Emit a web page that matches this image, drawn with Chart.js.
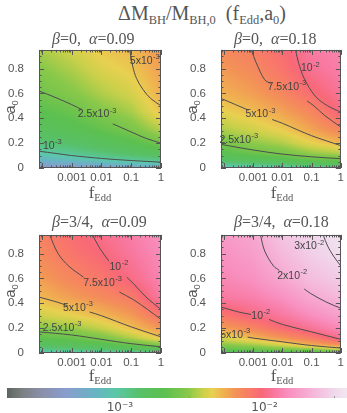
<!DOCTYPE html>
<html lang="en">
<head>
<meta charset="UTF-8">
<title>dM_BH / M_BH,0 (f_Edd, a_0)</title>
<script src="https://cdn.jsdelivr.net/npm/chart.js"></script>
<style>
  body { margin:0; background:#fff; width:347px; height:413px; overflow:hidden; position:relative; }
  canvas { position:absolute; }
  .txt { position:absolute; white-space:nowrap; font-family:'Liberation Serif', serif; color:#555; }
  .txt sub { font-size:0.62em; vertical-align:-0.3em; line-height:0; }
  .ylab { font-family:'Liberation Sans', sans-serif; font-size:15px; width:40px; height:20px; line-height:20px; text-align:center; transform:rotate(-90deg); }
  .xlab { font-size:17px; width:60px; height:20px; line-height:20px; text-align:center; }
  .ptitle { font-size:16px; line-height:16px; }
</style>
</head>
<body>
  <!-- figure title -->
  <div class="txt" style="left:2px;width:400px;top:2px;text-align:center;font-size:20px;">&Delta;M<sub>BH</sub>/M<sub>BH,0</sub>&nbsp;&nbsp;(f<sub>Edd</sub>,a<sub>0</sub>)</div>

  <!-- panels -->
  <canvas id="p1" width="175" height="184" style="left:0;top:28px"></canvas>
  <canvas id="p2" width="165" height="184" style="left:182px;top:28px"></canvas>
  <canvas id="p3" width="175" height="184" style="left:0;top:213px"></canvas>
  <canvas id="p4" width="165" height="184" style="left:182px;top:213px"></canvas>
  <canvas id="cbar" width="347" height="33" style="left:0;top:380px"></canvas>

  <div class="txt ptitle" style="left:52px;top:31px"><i>&beta;</i>=0,&nbsp; <i>&alpha;</i>=0.09</div>
  <div class="txt ptitle" style="left:234px;top:31px"><i>&beta;</i>=0,&nbsp; <i>&alpha;</i>=0.18</div>
  <div class="txt ptitle" style="left:52px;top:214px"><i>&beta;</i>=3/4,&nbsp; <i>&alpha;</i>=0.09</div>
  <div class="txt ptitle" style="left:234px;top:214px"><i>&beta;</i>=3/4,&nbsp; <i>&alpha;</i>=0.18</div>

  <div class="txt ylab" style="left:-10px;top:97px">a<sub>0</sub></div>
  <div class="txt ylab" style="left:172px;top:97px">a<sub>0</sub></div>
  <div class="txt ylab" style="left:-10px;top:281px">a<sub>0</sub></div>
  <div class="txt ylab" style="left:172px;top:281px">a<sub>0</sub></div>

  <div class="txt xlab" style="left:70px;top:183px">f<sub>Edd</sub></div>
  <div class="txt xlab" style="left:252px;top:183px">f<sub>Edd</sub></div>
  <div class="txt xlab" style="left:70px;top:366px">f<sub>Edd</sub></div>
  <div class="txt xlab" style="left:252px;top:366px">f<sub>Edd</sub></div>

  <script>
    const fEdd = [8e-5, 1e-3, 1e-2, 1e-1, 1];
    const a0 = [0, 0.03, 0.07, 0.12, 0.2, 0.3, 0.45, 0.6, 0.8, 0.95];

    // dM_BH/M_BH,0 in units of 1e-3 ; rows follow a0, columns follow fEdd
    const dmB0A09 = [
      [0.35, 0.38, 0.42, 0.45, 0.48],
      [0.50, 0.55, 0.65, 0.75, 0.82],
      [0.70, 0.80, 0.95, 1.08, 1.20],
      [0.93, 1.08, 1.25, 1.45, 1.70],
      [1.25, 1.40, 1.65, 1.95, 2.50],
      [1.60, 1.80, 2.15, 2.60, 3.40],
      [2.00, 2.30, 2.80, 3.30, 4.70],
      [2.45, 2.85, 3.40, 3.95, 5.30],
      [2.90, 3.40, 4.10, 4.60, 5.80],
      [3.30, 3.90, 4.60, 5.00, 6.20]
    ];
    const dmB0A18 = [
      [0.75, 0.80, 0.85, 0.90, 0.95],
      [1.10, 1.20, 1.35, 1.55, 1.70],
      [1.50, 1.75, 1.95, 2.30, 2.40],
      [1.95, 2.35, 2.60, 3.10, 3.50],
      [2.60, 3.00, 3.40, 4.30, 5.10],
      [3.30, 3.80, 4.40, 5.60, 7.00],
      [4.30, 4.90, 5.70, 7.00, 10.0],
      [5.20, 5.90, 7.00, 9.00, 11.3],
      [6.10, 6.90, 8.40, 11.0, 12.5],
      [6.80, 7.60, 9.10, 12.0, 13.2]
    ];
    const dmB34A09 = [
      [0.80, 0.85, 0.90, 0.95, 1.00],
      [1.15, 1.25, 1.35, 1.55, 1.80],
      [1.60, 1.75, 1.95, 2.40, 2.90],
      [2.10, 2.30, 2.65, 3.40, 4.60],
      [2.90, 3.10, 3.70, 4.80, 6.20],
      [3.80, 4.30, 5.00, 6.00, 8.40],
      [5.00, 5.90, 6.80, 7.90, 12.0],
      [5.90, 7.10, 8.20, 10.2, 13.2],
      [6.80, 8.30, 9.60, 11.6, 14.2],
      [7.40, 9.00, 10.5, 12.4, 14.8]
    ];
    const dmB34A18 = [
      [1.50, 1.55, 1.60, 1.70, 1.80],
      [2.20, 2.40, 2.70, 3.00, 3.80],
      [3.00, 3.40, 4.20, 5.50, 6.80],
      [4.00, 5.00, 6.20, 7.80, 10.8],
      [5.80, 7.20, 9.20, 11.3, 14.0],
      [8.20, 10.0, 11.7, 14.5, 17.5],
      [11.8, 12.8, 15.0, 19.3, 22.5],
      [13.5, 15.0, 19.0, 23.5, 27.0],
      [15.0, 17.2, 22.5, 27.5, 32.0],
      [16.0, 18.8, 25.0, 29.5, 35.0]
    ];

    // contour lines [fEdd, a0]; a null a0 is the break left for the label
    const p1c10 = [[8e-5,0.135],[3e-4,0.117],[1e-3,0.10],[1e-2,0.077],[0.1,0.06],[1,0.047]];
    const p1c25 = [[8e-5,0.62],[3e-4,0.565],[1e-3,0.51],[2.2e-3,0.47],[7e-3,null],[2.4e-2,0.355],[0.1,0.29],[0.3,0.24],[1,0.2]];
    const p1c50 = [[0.089,0.95],[0.112,0.82],[0.151,0.72],[0.251,0.63],[0.447,0.56],[1,0.5]];

    const p2c25 = [[8e-5,0.19],[1e-3,0.145],[1e-2,0.112],[0.1,0.09],[1,0.075]];
    const p2c50 = [[8e-5,0.56],[2.5e-4,0.51],[7e-4,0.465],[1.8e-3,null],[4.5e-3,0.39],[1e-2,0.36],[0.1,0.26],[1,0.18]];
    const p2c75 = [[8.7e-4,0.95],[1.26e-3,0.85],[2.5e-3,0.71],[4e-3,0.68],[0.014,null],[0.07,0.54],[0.12,0.5],[0.29,0.42],[1,0.33]];
    const p2c100 = [[0.0282,0.95],[0.0355,0.85],[0.0562,0.72],[0.132,0.58],[0.355,0.5],[1,0.45]];

    const p3c25 = [[8e-5,0.17],[1e-3,0.145],[1e-2,0.11],[0.1,0.075],[1,0.05]];
    const p3c50 = [[8e-5,0.45],[3.2e-4,0.41],[7.4e-4,0.38],[1.6e-3,null],[4e-3,0.33],[1e-2,0.3],[0.1,0.21],[1,0.13]];
    const p3c75 = [[1.82e-4,0.95],[3.5e-4,0.8],[7.9e-4,0.7],[2.5e-3,0.61],[0.0107,null],[0.04,0.49],[0.117,0.43],[0.355,0.35],[1,0.27]];
    const p3c100 = [[5e-3,0.95],[8.9e-3,0.84],[0.0178,0.74],[0.038,null],[0.0708,0.61],[0.117,0.56],[0.316,0.45],[1,0.35]];

    const p4c50 = [[6.5e-4,0.128],[1e-3,0.12],[1e-2,0.09],[0.1,0.06],[1,0.04]];
    const p4c100 = [[8e-5,0.37],[3.2e-4,0.33],[8.5e-4,0.31],[1.8e-3,null],[3.5e-3,0.27],[1e-2,0.23],[0.1,0.17],[1,0.11]];
    const p4c200 = [[1.78e-3,0.95],[2.5e-3,0.82],[5e-3,0.7],[7.9e-3,0.665],[0.0214,null],[0.056,0.515],[0.091,0.48],[0.316,0.41],[1,0.36]];
    const p4c300 = [[0.251,0.95],[0.355,0.86],[0.562,0.78],[1,0.7]];

    // contour labels: mantissa text, exponent, fEdd, a0
    const p1Labels = [['10','-3',2.2e-4,0.175],['2.5x10','-3',7e-3,0.43],['5x10','-3',0.28,0.86]];
    const p2Labels = [['2.5x10','-3',3.2e-4,0.225],['5x10','-3',1.74e-3,0.43],['7.5x10','-3',0.0141,0.65],['10','-2',0.089,0.8]];
    const p3Labels = [['2.5x10','-3',4.7e-4,0.2],['5x10','-3',1.6e-3,0.36],['7.5x10','-3',0.0107,0.565],['10','-2',0.038,0.69]];
    const p4Labels = [['5x10','-3',2.4e-4,0.147],['10','-2',1.8e-3,0.3],['2x10','-2',0.0214,0.62],['3x10','-2',0.081,0.857]];

    const xTicks = [1e-3, 1e-2, 1e-1, 1];
    const yTicks = [0, 0.2, 0.4, 0.6, 0.8];
    const cbarTicks = [1e-3, 1e-2];
    const cbarTickText = ['10\u207B\u00B3', '10\u207B\u00B2'];

    // colour table: log10(dM/M) -> colour
    const cbarLog = [-3.78, -3.68, -3.55, -3.38, -3.17, -3.03, -2.86, -2.69, -2.53, -2.43, -2.36, -2.28, -2.19, -2.10, -2.02, -1.93, -1.83, -1.72, -1.62, -1.52, -1.43];
    const cbarHex = ['#5d6560','#7b807f','#8a8fa8','#8a9ccc','#68b4c4','#5ac8a8','#58c068','#5cc050','#88c84a','#c8d04a','#e8d050','#f0b050','#f39058','#f87a68','#f86878','#f878a0','#f890c0','#f6a8d0','#f4c0e0','#f0d8ec','#f0e8f0'];

    const xMin = 8e-5, xMax = 1, yMax = 0.95;
    const textColor = '#555';

    const cbarRgb = cbarHex.map(h => [parseInt(h.slice(1,3),16), parseInt(h.slice(3,5),16), parseInt(h.slice(5,7),16)]);
    function cmap(lv) {
      const n = cbarLog.length;
      if (lv <= cbarLog[0]) return cbarRgb[0];
      if (lv >= cbarLog[n-1]) return cbarRgb[n-1];
      let i = 0;
      while (lv > cbarLog[i+1]) i++;
      const t = (lv - cbarLog[i]) / (cbarLog[i+1] - cbarLog[i]);
      return cbarRgb[i].map((c, k) => c + t * (cbarRgb[i+1][k] - c));
    }
    function seg(arr, v) {
      const n = arr.length;
      if (v <= arr[0]) return [0, 0];
      if (v >= arr[n-1]) return [n-2, 1];
      let i = 0;
      while (v > arr[i+1]) i++;
      return [i, (v - arr[i]) / (arr[i+1] - arr[i])];
    }

    const panels = {
      p1: { grid: dmB0A09, lines: [p1c10, p1c25, p1c50], labels: p1Labels, padR: 14 },
      p2: { grid: dmB0A18, lines: [p2c25, p2c50, p2c75, p2c100], labels: p2Labels, padR: 4 },
      p3: { grid: dmB34A09, lines: [p3c25, p3c50, p3c75, p3c100], labels: p3Labels, padR: 14 },
      p4: { grid: dmB34A18, lines: [p4c50, p4c100, p4c200, p4c300], labels: p4Labels, padR: 4 }
    };

    // colour map of each panel, drawn behind the contours
    const heatmap = {
      id: 'heatmap',
      beforeDatasetsDraw(chart) {
        const { ctx, chartArea: ca, scales } = chart;
        const lg = panels[chart.canvas.id].grid.map(r => r.map(v => Math.log10(v * 1e-3)));
        const lx = fEdd.map(Math.log10);
        const x0 = Math.round(ca.left), y0 = Math.round(ca.top);
        const w = Math.round(ca.right) - x0, h = Math.round(ca.bottom) - y0;
        const img = ctx.createImageData(w, h);
        for (let j = 0; j < h; j++) {
          const [r, u] = seg(a0, scales.y.getValueForPixel(y0 + j + 0.5));
          for (let i = 0; i < w; i++) {
            const [c, t] = seg(lx, Math.log10(scales.x.getValueForPixel(x0 + i + 0.5)));
            const v = (1-u) * ((1-t) * lg[r][c] + t * lg[r][c+1]) + u * ((1-t) * lg[r+1][c] + t * lg[r+1][c+1]);
            const rgb = cmap(v);
            const k = (j * w + i) * 4;
            img.data[k] = rgb[0]; img.data[k+1] = rgb[1]; img.data[k+2] = rgb[2]; img.data[k+3] = 255;
          }
        }
        ctx.putImageData(img, x0, y0);
      }
    };

    function supText(ctx, base, sup, x, y) {
      ctx.font = '10.5px "Liberation Sans"';
      const wb = ctx.measureText(base).width;
      ctx.font = '7.5px "Liberation Sans"';
      const ws = ctx.measureText(sup).width;
      const left = x - (wb + ws) / 2;
      ctx.textAlign = 'left';
      ctx.textBaseline = 'middle';
      ctx.font = '10.5px "Liberation Sans"';
      ctx.fillText(base, left, y);
      ctx.font = '7.5px "Liberation Sans"';
      ctx.fillText(sup, left + wb + 0.5, y - 4);
    }

    // box, inward ticks on all four sides and contour labels
    const frame = {
      id: 'frame',
      afterDatasetsDraw(chart) {
        const { ctx, chartArea: ca, scales: { x, y } } = chart;
        ctx.save();
        ctx.strokeStyle = '#555';
        ctx.lineWidth = 1;
        ctx.strokeRect(Math.round(ca.left) + 0.5, Math.round(ca.top) + 0.5, Math.round(ca.right - ca.left) - 1, Math.round(ca.bottom - ca.top) - 1);
        ctx.beginPath();
        for (let d = -5; d <= 0; d++) {
          for (let m = 1; m <= 9; m++) {
            const v = m * Math.pow(10, d);
            if (v < xMin || v > xMax) continue;
            const px = Math.round(x.getPixelForValue(v)) + 0.5;
            const len = m === 1 ? 5 : 2.5;
            ctx.moveTo(px, ca.bottom); ctx.lineTo(px, ca.bottom - len);
            ctx.moveTo(px, ca.top); ctx.lineTo(px, ca.top + len);
          }
        }
        for (let k = 0; k * 0.05 <= yMax + 1e-9; k++) {
          const py = Math.round(y.getPixelForValue(k * 0.05)) + 0.5;
          const len = k % 4 === 0 ? 5 : 2.5;
          ctx.moveTo(ca.left, py); ctx.lineTo(ca.left + len, py);
          ctx.moveTo(ca.right, py); ctx.lineTo(ca.right - len, py);
        }
        ctx.stroke();
        ctx.fillStyle = '#444';
        panels[chart.canvas.id].labels.forEach(l => {
          supText(ctx, l[0], l[1], x.getPixelForValue(l[2]), y.getPixelForValue(l[3]));
        });
        ctx.restore();
      }
    };

    const tickFont = { family: 'Liberation Sans', size: 11.5 };

    Object.keys(panels).forEach(id => {
      const p = panels[id];
      new Chart(document.getElementById(id), {
        type: 'line',
        data: {
          datasets: p.lines.map(c => ({
            data: c.map(pt => ({ x: pt[0], y: pt[1] })),
            borderColor: '#4d4d4d',
            borderWidth: 1,
            pointRadius: 0,
            tension: 0.35,
            spanGaps: false
          }))
        },
        options: {
          responsive: false,
          animation: false,
          events: [],
          layout: { padding: { top: 19, right: p.padR, left: 0, bottom: 0 } },
          plugins: { legend: { display: false }, tooltip: { enabled: false } },
          scales: {
            x: {
              type: 'logarithmic', min: xMin, max: xMax,
              grid: { display: false, drawTicks: false }, border: { display: false },
              afterBuildTicks: s => { s.ticks = xTicks.map(v => ({ value: v })); },
              afterFit: s => { s.height = 44; },
              ticks: { padding: 3, maxRotation: 0, autoSkip: false, color: textColor, font: tickFont, callback: v => String(v) }
            },
            y: {
              min: 0, max: yMax,
              grid: { display: false, drawTicks: false }, border: { display: false },
              afterBuildTicks: s => { s.ticks = yTicks.map(v => ({ value: v })); },
              afterFit: s => { s.width = 39; },
              ticks: { padding: 15, color: textColor, font: tickFont, callback: v => String(v) }
            }
          }
        },
        plugins: [heatmap, frame]
      });
    });

    // colour bar
    const colorbar = {
      id: 'colorbar',
      beforeDatasetsDraw(chart) {
        const { ctx, chartArea: ca, scales: { x } } = chart;
        for (let px = Math.round(ca.left); px < Math.round(ca.right); px++) {
          const rgb = cmap(Math.log10(x.getValueForPixel(px + 0.5)));
          ctx.fillStyle = 'rgb(' + rgb.map(Math.round).join(',') + ')';
          ctx.fillRect(px, ca.top, 1, ca.bottom - ca.top);
        }
        ctx.strokeStyle = '#999';
        ctx.beginPath();
        [3e-4, 1e-3, 3e-3, 1e-2, 3e-2].forEach(v => {
          const px = Math.round(x.getPixelForValue(v)) + 0.5;
          ctx.moveTo(px, ca.bottom); ctx.lineTo(px, ca.bottom - 2);
        });
        ctx.stroke();
      }
    };

    new Chart(document.getElementById('cbar'), {
      type: 'line',
      data: { datasets: [] },
      options: {
        responsive: false,
        animation: false,
        events: [],
        layout: { padding: { left: 7, top: 8, right: 0, bottom: 0 } },
        plugins: { legend: { display: false }, tooltip: { enabled: false } },
        scales: {
          x: {
            type: 'logarithmic', min: Math.pow(10, cbarLog[0]), max: Math.pow(10, cbarLog[cbarLog.length - 1]),
            grid: { display: false, drawTicks: false }, border: { display: false },
            afterBuildTicks: s => { s.ticks = cbarTicks.map(v => ({ value: v })); },
            afterFit: s => { s.height = 15; },
            ticks: { padding: 3, color: textColor, font: { family: 'DejaVu Sans', size: 12 }, callback: (v, i) => cbarTickText[i] }
          },
          y: { display: false }
        }
      },
      plugins: [colorbar]
    });
  </script>
</body>
</html>
